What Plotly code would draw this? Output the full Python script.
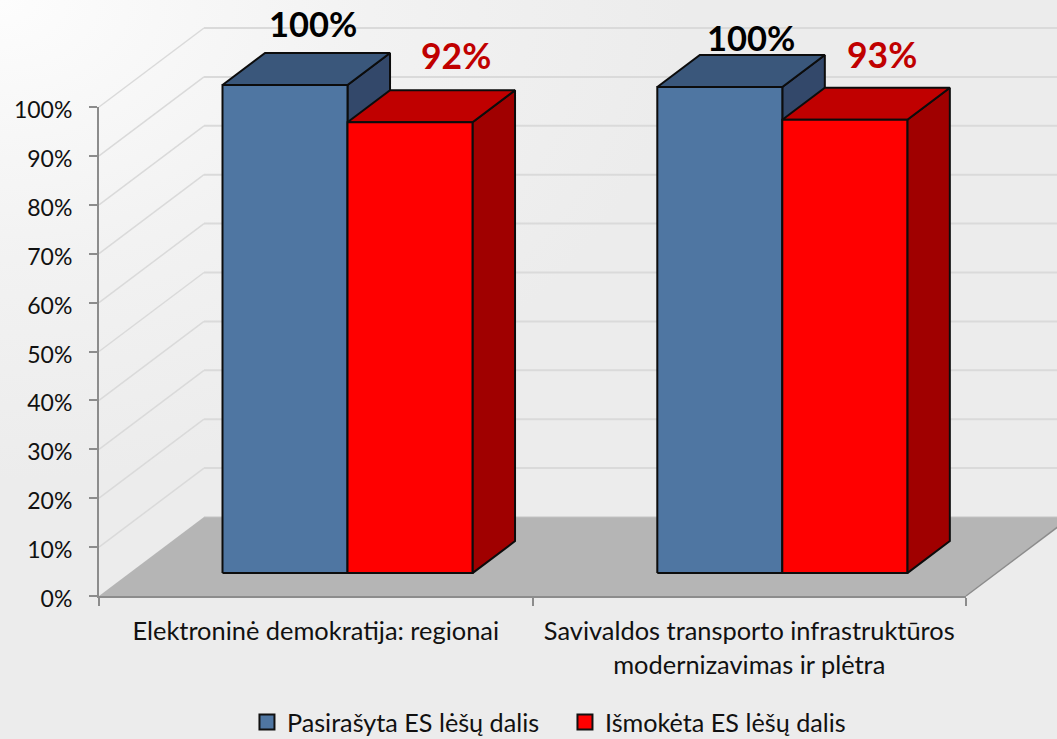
import plotly.graph_objects as go

# ---- data ----
categories = ["Elektroninė demokratija: regionai",
              "Savivaldos transporto infrastruktūros<br>modernizavimas ir plėtra"]
series_names = ["Pasirašyta ES lėšų dalis", "Išmokėta ES lėšų dalis"]
signed = [99.8, 99.4]
paid = [92.2, 92.7]
signed_labels = ["100%", "100%"]
paid_labels = ["92%", "93%"]
y_ticks = [0, 10, 20, 30, 40, 50, 60, 70, 80, 90, 100]
y_ticktext = ["0%", "10%", "20%", "30%", "40%", "50%", "60%", "70%", "80%", "90%", "100%"]

# ---- style ----
W, H = 1057, 739
L, R, B, T = 99, 966, 596, 107     # axis rectangle on the page
FONT = "Lato"
BLUE = ("#4f76a2", "#3a577b", "#33486a")
RED = ("#ff0000", "#c00000", "#a00000")
FLOOR = "#b5b5b5"
GRID = "#dadada"
AXIS = "#8c8c8c"
TXT = "#111111"
EDGE = "#0c0c0c"

# the marks sit on a page-wide pair of axes sharing the visible axes' scale
UX = (R - L) / 2      # pixels per category
UY = (B - T) / 100    # pixels per percent
X_RANGE = [-L / UX, (W - L) / UX]
Y_RANGE = [-(H - B) / UY, B / UY]

# oblique projection, in axis units
DX, DY = 105 / UX, 79 / UY
def px(x, v, z):
    return x + z * DX, v + z * DY

BAR_W = 125 / UX
Z0, Z1 = 0.29, 0.695
def center(i):
    return 0.503 + i * 1.003

fig = go.Figure()

# page background with soft highlight in the top-left corner
xa, xb = X_RANGE
ya, yb = Y_RANGE
fig.add_trace(go.Scatter(
    x=[xa - (xb - xa), xb, xb, xa - (xb - xa), xa - (xb - xa)],
    y=[ya, ya, yb + (yb - ya), yb + (yb - ya), ya],
    mode="none", fill="toself", showlegend=False, hoverinfo="skip",
    fillgradient=dict(type="radial",
                      colorscale=[[0, "#fdfdfd"], [0.15, "#f8f8f8"], [0.35, "#f2f2f2"], [0.65, "#ececec"], [1, "#ececec"]]),
))

def poly(points, fill, line=None, width=0):
    xs = [p[0] for p in points] + [points[0][0]]
    ys = [p[1] for p in points] + [points[0][1]]
    fig.add_trace(go.Scatter(
        x=xs, y=ys, mode="lines", fill="toself",
        fillcolor=fill, line=dict(color=line or fill, width=width),
        showlegend=False, hoverinfo="skip"))

def seg(a, b, color, width):
    fig.add_trace(go.Scatter(
        x=[a[0], b[0]], y=[a[1], b[1]], mode="lines",
        line=dict(color=color, width=width),
        showlegend=False, hoverinfo="skip"))

# walls: gridlines on the side wall and the back wall
XEND = 2
for v in y_ticks[1:]:
    seg(px(0, v, 0), px(0, v, 1), GRID, 1.5)
    seg(px(0, v, 1), px(XEND, v, 1), GRID, 2)

# floor
poly([px(0, 0, 0), px(XEND, 0, 0), px(XEND, 0, 1), px(0, 0, 1)], FLOOR)
seg(px(XEND, 0, 0), px(XEND, 0, 1), AXIS, 1.5)
seg(px(0, 0, 1), px(XEND, 0, 1), "#c4c4c4", 1)

# bars
def bar(x0, x1, v, cols):
    fr = [px(x0, 0, Z0), px(x1, 0, Z0), px(x1, v, Z0), px(x0, v, Z0)]
    top = [px(x0, v, Z0), px(x1, v, Z0), px(x1, v, Z1), px(x0, v, Z1)]
    side = [px(x1, 0, Z0), px(x1, 0, Z1), px(x1, v, Z1), px(x1, v, Z0)]
    poly(side, cols[2], EDGE, 2)
    poly(top, cols[1], EDGE, 2)
    poly(fr, cols[0], EDGE, 2)

for i in range(len(categories)):
    c = center(i)
    bar(c - BAR_W, c, signed[i], BLUE)
    bar(c, c + BAR_W, paid[i], RED)

# legend keys; these also bring up the visible axes
for name, cols in zip(series_names, (BLUE, RED)):
    fig.add_trace(go.Scatter(
        x=[None], y=[None], xaxis="x2", yaxis="y2", mode="markers", name=name,
        marker=dict(symbol="square", size=15, color=cols[0], line=dict(color="#111111", width=2))))

# value labels, anchored on the bars' top back edge
offsets_signed = [(-15, 30), (-11, 18)]
offsets_paid = [(3, 35), (-5, 33)]
for i in range(len(categories)):
    c = center(i)
    x, y = px(c - BAR_W / 2, signed[i], Z1)
    fig.add_annotation(x=x, y=y, xref="x", yref="y", text=f"<b>{signed_labels[i]}</b>", showarrow=False,
                       xshift=offsets_signed[i][0], yshift=offsets_signed[i][1],
                       font=dict(family=FONT, size=34.5, color="#000000"))
    x, y = px(c + BAR_W / 2, paid[i], Z1)
    fig.add_annotation(x=x, y=y, xref="x", yref="y", text=f"<b>{paid_labels[i]}</b>", showarrow=False,
                       xshift=offsets_paid[i][0], yshift=offsets_paid[i][1],
                       font=dict(family=FONT, size=35.5, color="#c00000"))

fig.update_layout(
    width=W, height=H, margin=dict(l=0, r=0, t=0, b=0, autoexpand=False), autosize=False,
    paper_bgcolor="#ececec", plot_bgcolor="rgba(0,0,0,0)",
    font=dict(family=FONT, size=23, color=TXT),
    hovermode=False,
    xaxis=dict(domain=[0, 1], range=X_RANGE, visible=False, fixedrange=True),
    yaxis=dict(domain=[0, 1], range=Y_RANGE, visible=False, fixedrange=True, anchor="x"),
    xaxis2=dict(domain=[L / W, R / W], range=[0, 2], anchor="y2", showgrid=False, zeroline=False,
                showline=True, linecolor=AXIS, linewidth=2, tickfont=dict(size=25.4),
                tickmode="array", tickvals=[0.5, 1.5], ticktext=categories, ticks="", ticklabelstandoff=12,
                minor=dict(tickmode="array", tickvals=[0, 1, 2], ticks="outside", ticklen=8, tickcolor=AXIS, tickwidth=2)),
    yaxis2=dict(domain=[(H - B) / H, (H - T) / H], range=[0, 100], anchor="x2", showgrid=False, zeroline=False,
                showline=True, linecolor=AXIS, linewidth=2, tickmode="array", tickvals=y_ticks, ticktext=y_ticktext,
                ticks="outside", ticklen=8, tickcolor=AXIS, tickwidth=2, ticklabelstandoff=12, ticklabelshift=3),
    legend=dict(orientation="h", x=0.5345, xanchor="center", y=0.023, yanchor="middle",
                entrywidth=273, entrywidthmode="pixels",
                font=dict(family=FONT, size=25.2, color=TXT), bgcolor="rgba(0,0,0,0)"),
)
fig.write_html("out.html", config={"displayModeBar": False},
               post_script="document.body.style.margin='0';document.documentElement.style.overflow='hidden';")
